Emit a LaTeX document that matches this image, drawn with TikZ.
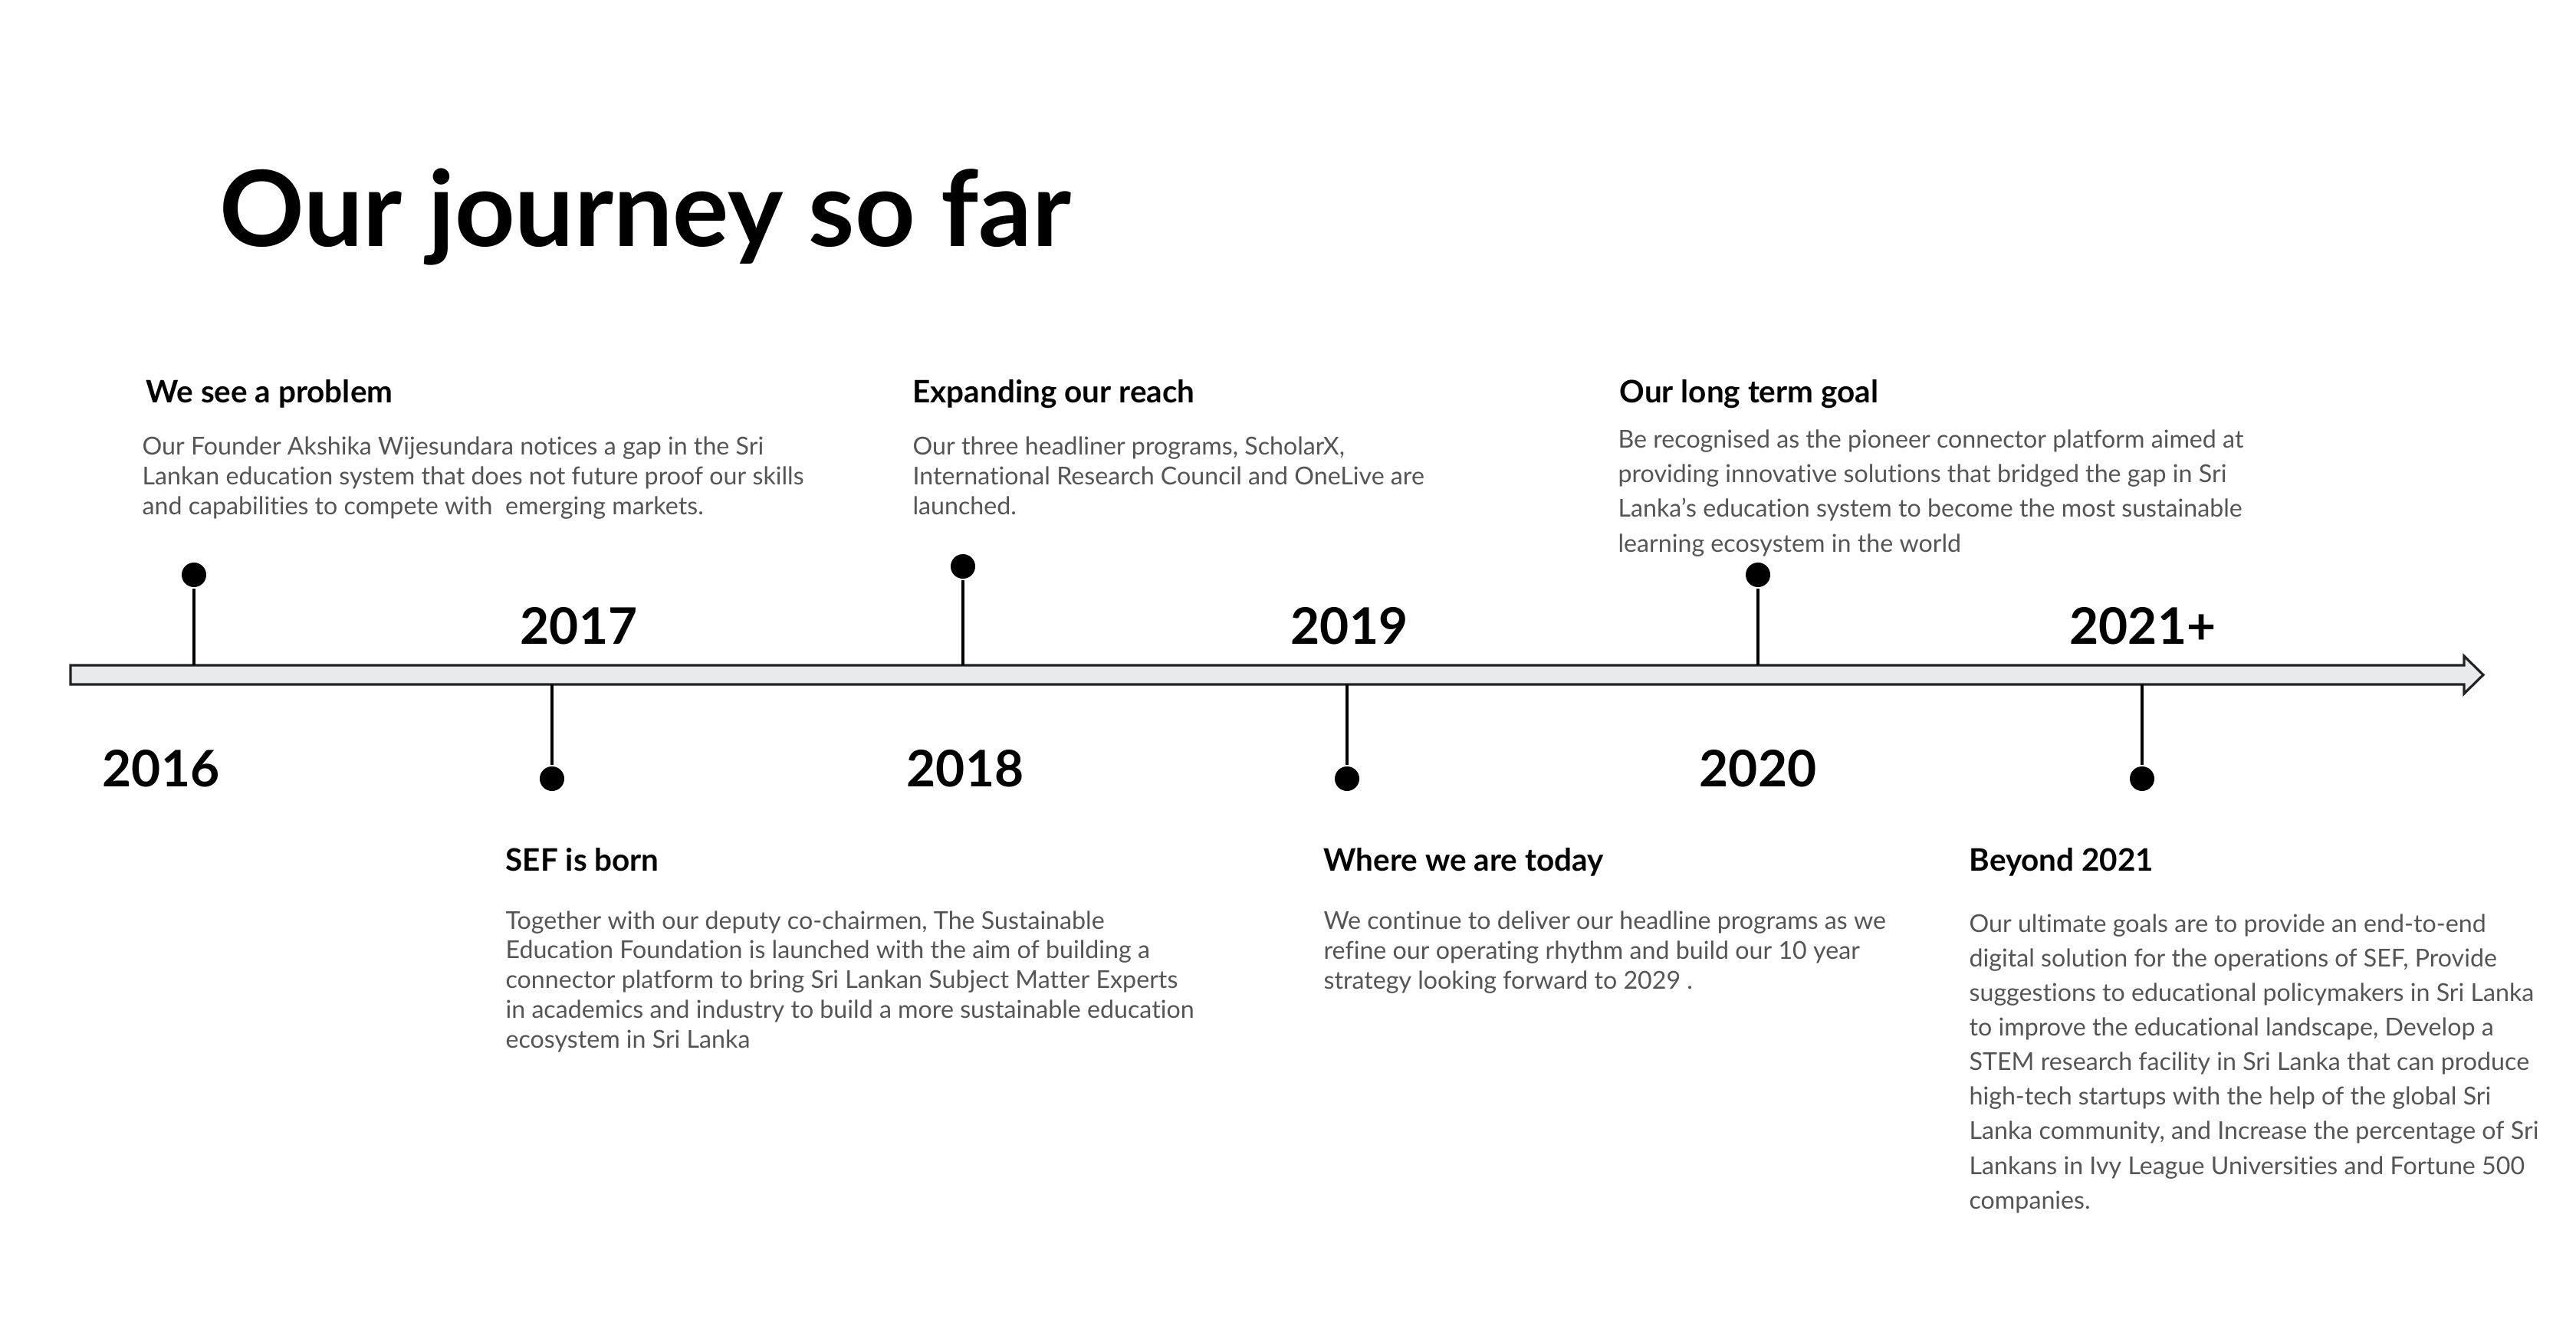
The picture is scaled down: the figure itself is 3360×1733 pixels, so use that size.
\documentclass[tikz,border=0pt]{standalone}
\usepackage{fontspec}
\setmainfont{Lato}[RawFeature=-liga]
\definecolor{bodygray}{HTML}{555555}
\definecolor{barfill}{HTML}{E8EAEB}
\definecolor{barline}{HTML}{222222}
\begin{document}
\begin{tikzpicture}[x=0.01cm,y=-0.01cm,line width=0.9pt,
  every node/.style={inner sep=0pt,anchor=base west},
  heading/.style={font=\fontsize{11.5}{14}\selectfont\bfseries},
  body/.style={font=\fontsize{9.15}{11}\selectfont,text=bodygray,align=left},
  bodywide/.style={body,font=\fontsize{9.15}{12.8}\selectfont},
  year/.style={font=\fontsize{18.7}{22}\selectfont\bfseries,anchor=base},
  pin/.style={circle,fill=black,minimum size=0.32cm,anchor=center}]
\useasboundingbox (0,0) rectangle (3360,1733);
\node[font=\fontsize{39}{46}\selectfont\bfseries] (title) at (285,321) {Our journey so far};
% timeline bar
\draw[barline,fill=barfill] (92,868) -- (3214,868) -- (3214,856) -- (3239,880.5) -- (3214,905) -- (3214,893) -- (92,893) -- cycle;
% pins above the bar
\coordinate (a16) at (253,868);
\coordinate (a18) at (1256,868);
\coordinate (a20) at (2293,868);
\node[pin] (d16) at (253,750) {};
\node[pin] (d18) at (1256,739) {};
\node[pin] (d20) at (2293,750) {};
\draw (d16) -- (a16);
\draw (d18) -- (a18);
\draw (d20) -- (a20);
% pins below the bar
\coordinate (a17) at (720,893);
\coordinate (a19) at (1757,893);
\coordinate (a21) at (2794,893);
\node[pin] (d17) at (720,1016) {};
\node[pin] (d19) at (1757,1016) {};
\node[pin] (d21) at (2794,1016) {};
\draw (a17) -- (d17);
\draw (a19) -- (d19);
\draw (a21) -- (d21);
% years
\node[year] (y16) at (210,1026) {2016};
\node[year] (y17) at (755,840) {2017};
\node[year] (y18) at (1259,1026) {2018};
\node[year] (y19) at (1760,840) {2019};
\node[year] (y20) at (2293,1026) {2020};
\node[year] (y21) at (2795,840) {2021+};
% texts above (body nodes sit on their last line)
\node[heading] (h16) at (189,525) {We see a problem};
\node[body] (b16) at (184,671) {Our Founder Akshika Wijesundara notices a gap in the Sri\\
Lankan education system that does not future proof our skills\\
and capabilities to compete with \ emerging markets.};
\node[heading] (h18) at (1189,525) {Expanding our reach};
\node[body] (b18) at (1189,671) {Our three headliner programs, ScholarX,\\
International Research Council and OneLive are\\
launched.};
\node[heading] (h20) at (2111,525) {Our long term goal};
\node[bodywide] (b20) at (2109,720) {Be recognised as the pioneer connector platform aimed at\\
providing innovative solutions that bridged the gap in Sri\\
Lanka's education system to become the most sustainable\\
learning ecosystem in the world};
% texts below
\node[heading] (h17) at (658,1136) {SEF is born};
\node[body] (b17) at (658,1367) {Together with our deputy co-chairmen, The Sustainable\\
Education Foundation is launched with the aim of building a\\
connector platform to bring Sri Lankan Subject Matter Experts\\
in academics and industry to build a more sustainable education\\
ecosystem in Sri Lanka};
\node[heading] (h19) at (1725,1136) {Where we are today};
\node[body] (b19) at (1725,1290) {We continue to deliver our headline programs as we\\
refine our operating rhythm and build our 10 year\\
strategy looking forward to 2029 .};
\node[heading] (h21) at (2567,1136) {Beyond 2021};
\node[bodywide] (b21) at (2567,1577) {Our ultimate goals are to provide an end-to-end\\
digital solution for the operations of SEF, Provide\\
suggestions to educational policymakers in Sri Lanka\\
to improve the educational landscape, Develop a\\
STEM research facility in Sri Lanka that can produce\\
high-tech startups with the help of the global Sri\\
Lanka community, and Increase the percentage of Sri\\
Lankans in Ivy League Universities and Fortune 500\\
companies.};
\end{tikzpicture}
\end{document}
